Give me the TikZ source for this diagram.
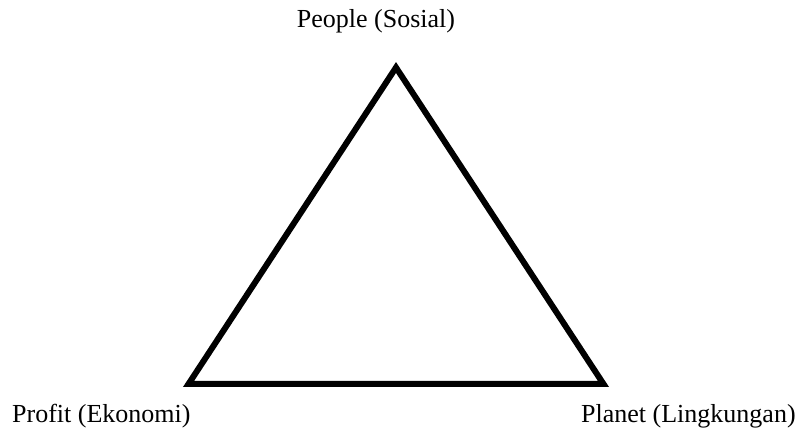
\documentclass[tikz,border=0pt]{standalone}
\usepackage{fontspec}
\setmainfont{Liberation Serif}
\begin{document}
\begin{tikzpicture}[x=1pt,y=-1pt,
  lbl/.style={inner sep=0pt,font=\fontsize{26}{30}\selectfont},
  tri/.style={line width=6pt,line join=miter}]
\useasboundingbox (0,0) rectangle (801,430);
\coordinate (top) at (396,67.5);
\coordinate (bl) at (188.5,384);
\coordinate (br) at (603.5,384);
\draw[tri] (top) -- (br) -- (bl) -- cycle;
\node[lbl,anchor=base] (people) at (376,28) {People (Sosial)};
\node[lbl,anchor=base west] (profit) at (12,423) {Profit (Ekonomi)};
\node[lbl,anchor=base west] (planet) at (581,422) {Planet (Lingkungan)};
\end{tikzpicture}
\end{document}
